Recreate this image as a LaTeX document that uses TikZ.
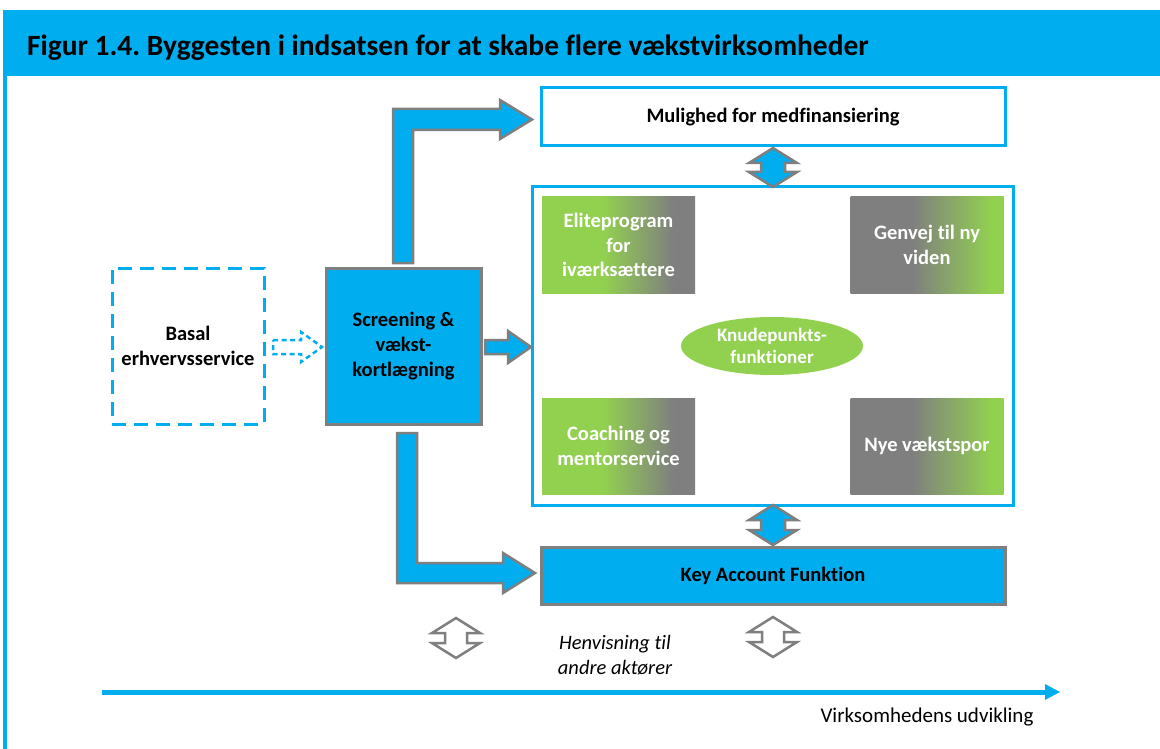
\documentclass[tikz,border=0pt]{standalone}
\usepackage{fontspec}
\setmainfont{Carlito}[RawFeature={-liga;-dlig}]
\usetikzlibrary{calc,shapes.geometric}
\frenchspacing
\definecolor{cblue}{HTML}{00ADEF}
\definecolor{cgray}{HTML}{7F7F7F}
\definecolor{cgreen}{HTML}{92D050}
\pgfdeclarehorizontalshading{greentogray}{100bp}{color(0bp)=(cgreen); color(45bp)=(cgreen); color(68bp)=(cgray); color(100bp)=(cgray)}
\pgfdeclarehorizontalshading{graytogreen}{100bp}{color(0bp)=(cgray); color(45bp)=(cgray); color(71bp)=(cgreen); color(100bp)=(cgreen)}
\tikzset{
  boxtext/.style={font=\fontsize{20.5}{25}\selectfont\bfseries, align=center},
  bluebox/.style={fill=cblue, draw=cgray, line width=3pt, boxtext},
  framebox/.style={draw=cblue, line width=3pt, fill=white, boxtext},
  dashbox/.style={draw=cblue, line width=3pt, dash pattern=on 14pt off 8pt, boxtext},
  gbox/.style={minimum width=153pt, minimum height=96pt, inner sep=0pt, text=white, font=\fontsize{20.5}{24.5}\selectfont\bfseries, align=center},
  blockarrow/.style={fill=cblue, draw=cgray, line width=2.5pt, line join=miter},
  outlinearrow/.style={fill=white, draw=cgray, line width=2.5pt, line join=miter},
}
\begin{document}
\begin{tikzpicture}[x=1pt,y=-1pt]
\useasboundingbox (0,0) rectangle (1160,749);
\fill[white] (0,0) rectangle (1160,749);
% title band and frame
\fill[cblue] (3,10) rectangle (1160,76);
\fill[cblue] (3,76) rectangle (7,749);
\node[anchor=base west, inner sep=0pt, font=\fontsize{29.4}{32}\selectfont\bfseries] (title) at (27,56) {Figur 1.4. Byggesten i indsatsen for at skabe flere vækstvirksomheder};

% main boxes
\node[framebox, minimum width=464pt, minimum height=58pt] (mulig) at (773,117) {Mulighed for medfinansiering};
\node[draw=cblue, line width=3pt, minimum width=481pt, minimum height=318pt] (big) at (772.5,346) {};
\node[bluebox, minimum width=464pt, minimum height=57pt] (key) at (773,575.5) {Key Account Funktion};
\node[bluebox, minimum width=155pt, minimum height=156pt] (scr) at (403.5,346) {Screening \&\\vækst-\\kortlægning};
\node[dashbox, minimum width=152pt, minimum height=156pt] (basal) at (188,346) {Basal\\erhvervsservice};

% inner nodes
\node[gbox, shading=greentogray] (elite) at (618.5,245) {Eliteprogram\\for\\iværksættere};
\node[gbox, shading=graytogreen] (genvej) at (927,245) {Genvej til ny\\viden};
\node[gbox, shading=greentogray] (coach) at (618.5,446) {Coaching og\\mentorservice};
\node[gbox, shading=graytogreen] (nye) at (927,446) {Nye vækstspor};
\node[ellipse, fill=cgreen, minimum width=182pt, minimum height=58pt, inner sep=0pt, text=white, align=center, font=\fontsize{19}{21.5}\selectfont\bfseries] (knude) at (772,346) {Knudepunkts-\\funktioner};

% bent arrow up
\draw[blockarrow] (393,263) -- (393,109) -- (500,109) -- (500,100) -- (532,119.5) -- (500,139) -- (500,130) -- (413,130) -- (413,263) -- cycle;
% bent arrow down
\draw[blockarrow] (397,433) -- (397,583) -- (503,583) -- (503,593) -- (535,573) -- (503,553) -- (503,563) -- (417,563) -- (417,433) -- cycle;
% right arrow to big box
\draw[blockarrow] (485,340) -- (508,340) -- (508,331) -- (531,347) -- (508,363) -- (508,354) -- (485,354) -- cycle;
% dashed arrow
\draw[draw=cblue, fill=white, line width=2.5pt, dash pattern=on 5pt off 3.5pt] (273,340) -- (301,340) -- (301,332) -- (322,347) -- (301,362) -- (301,354) -- (273,354) -- cycle;

% double arrows
\draw[blockarrow] (773,148) -- (797,163) -- (785,163) -- (785,172) -- (797,172) -- (773,187) -- (749,172) -- (761,172) -- (761,163) -- (749,163) -- cycle;
\draw[blockarrow] (773,505) -- (797,520) -- (785,520) -- (785,530) -- (797,530) -- (773,545) -- (749,530) -- (761,530) -- (761,520) -- (749,520) -- cycle;
\draw[outlinearrow] (456,618) -- (480,633) -- (467,633) -- (467,643) -- (480,643) -- (456,658) -- (432,643) -- (445,643) -- (445,633) -- (432,633) -- cycle;
\draw[outlinearrow] (773,617) -- (797,632) -- (784,632) -- (784,642) -- (797,642) -- (773,657) -- (749,642) -- (762,642) -- (762,632) -- (749,632) -- cycle;

\node[align=center, font=\fontsize{20.5}{25}\selectfont\itshape] (henv) at (615,655) {Henvisning til\\andre aktører};

% axis
\coordinate (axs) at (102,692);
\coordinate (axe) at (1046,692);
\draw[cblue, line width=5pt] (axs) -- (axe);
\fill[cblue] ($(axe)+(-1,-8)$) -- ($(axe)+(14,0)$) -- ($(axe)+(-1,8)$) -- cycle;
\node[anchor=east, font=\fontsize{21}{24}\selectfont] (dev) at (1037,717) {Virksomhedens udvikling};
\end{tikzpicture}
\end{document}
